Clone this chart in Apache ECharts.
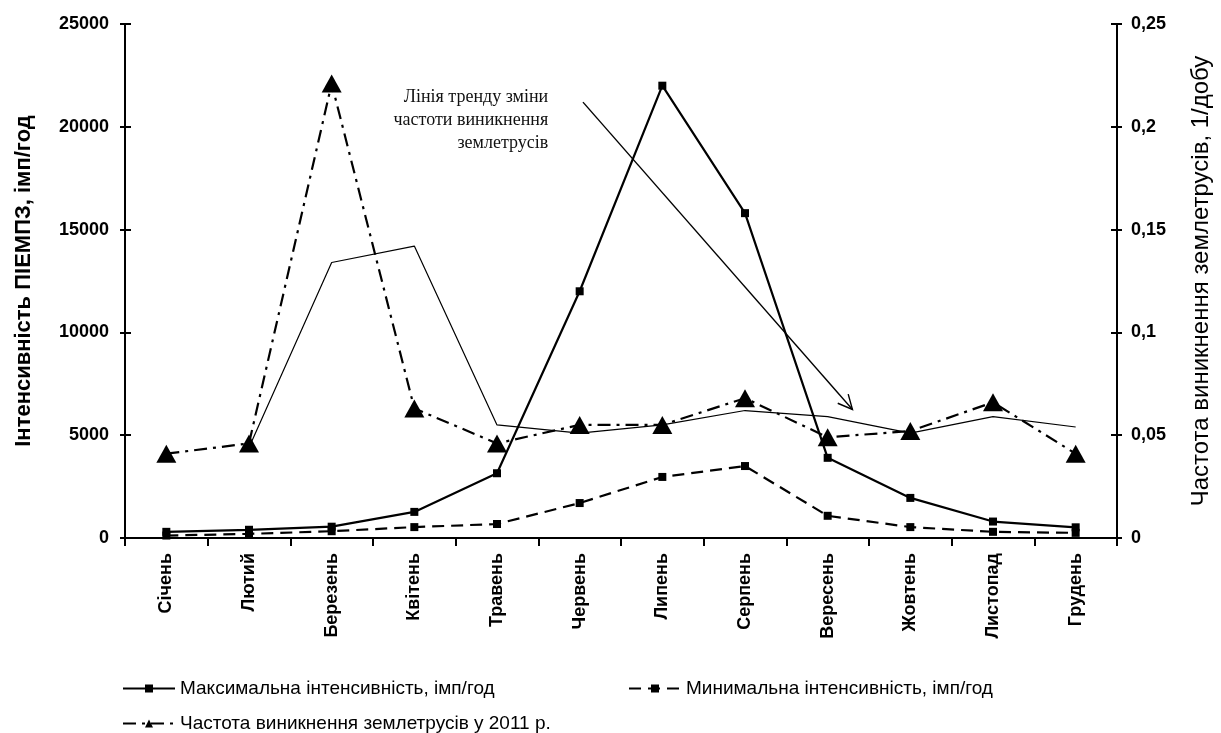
<!DOCTYPE html>
<html><head><meta charset="utf-8">
<script src="https://cdn.jsdelivr.net/npm/echarts@6/dist/echarts.min.js"></script>
<style>html,body{margin:0;padding:0;background:#fff}#c{width:1221px;height:733px}</style>
</head><body><div id="c"></div>
<script>
const months = ['Січень','Лютий','Березень','Квітень','Травень','Червень','Липень','Серпень','Вересень','Жовтень','Листопад','Грудень'];
const maxIntensity = [300, 400, 550, 1270, 3150, 12000, 22000, 15800, 3900, 1950, 800, 520];
const minIntensity = [120, 200, 330, 530, 680, 1700, 2970, 3500, 1080, 530, 300, 250];
const quakeFreq = [0.041, 0.046, 0.221, 0.063, 0.046, 0.055, 0.055, 0.068, 0.049, 0.052, 0.066, 0.041];
const trendAvg = [null, 0.044, 0.134, 0.142, 0.055, 0.051, 0.055, 0.062, 0.059, 0.051, 0.059, 0.054];
const leftTicks = {min: 0, max: 25000, interval: 5000};
const rightTicks = {min: 0, max: 0.25, interval: 0.05};
const seriesNames = ['Максимальна інтенсивність, імп/год', 'Минимальна інтенсивність, імп/год', 'Частота виникнення землетрусів у 2011 р.'];
const leftTitle = 'Інтенсивність ПІЕМПЗ, імп/год';
const rightTitle = 'Частота виникнення землетрусів, 1/добу';
const trendText = ['Лінія тренду зміни', 'частоти виникнення', 'землетрусів'];
// annotation anchors in data units: [category position, left-axis value]
const arrowFrom = [5.04, 21200];
const arrowTo = [8.3, 6250];
const textAnchor = [4.62, 22000];

const SANS = 'Liberation Sans, Arial, sans-serif';
const NARROW = 'Liberation Sans Narrow, Arial Narrow, Liberation Sans, sans-serif';
const axisLineStyle = {color: '#000', width: 2};
const tickLabel = {color: '#000', fontFamily: SANS, fontWeight: 'bold', fontSize: 18};

const chart = echarts.init(document.getElementById('c'), null, {renderer: 'canvas'});
const legendBase = {orient: 'horizontal', itemWidth: 52, itemHeight: 10, itemGap: 10,
  textStyle: {color: '#000', fontFamily: NARROW, fontSize: 19}, selectedMode: false};

chart.setOption({
  animation: false,
  backgroundColor: '#fff',
  grid: {left: 125, right: 104, top: 24, bottom: 195, containLabel: false},
  legend: [
    Object.assign({}, legendBase, {data: [seriesNames[0]], left: 117, top: 674}),
    Object.assign({}, legendBase, {data: [seriesNames[1]], left: 623, top: 674}),
    Object.assign({}, legendBase, {data: [seriesNames[2]], left: 117, top: 709})
  ],
  xAxis: {
    type: 'category', data: months, boundaryGap: true,
    axisLine: {lineStyle: axisLineStyle},
    axisTick: {show: true, length: 8, lineStyle: {color: '#000', width: 2}},
    axisLabel: Object.assign({rotate: 90, margin: 15, interval: 0}, tickLabel),
    splitLine: {show: false}
  },
  yAxis: [
    Object.assign({type: 'value', position: 'left', name: leftTitle, nameLocation: 'middle', nameRotate: 90, nameGap: 90,
      nameTextStyle: {color: '#000', fontFamily: SANS, fontWeight: 'bold', fontSize: 22},
      axisLine: {show: true, lineStyle: axisLineStyle},
      axisTick: {show: true, length: 5, lineStyle: {color: '#000', width: 2}},
      axisLabel: Object.assign({margin: 16, formatter: v => String(v)}, tickLabel),
      splitLine: {show: false}}, leftTicks),
    Object.assign({type: 'value', position: 'right', name: rightTitle, nameLocation: 'middle', nameRotate: 90, nameGap: 72,
      nameTextStyle: {color: '#000', fontFamily: SANS, fontSize: 24},
      axisLine: {show: true, lineStyle: axisLineStyle},
      axisTick: {show: true, length: 5, lineStyle: {color: '#000', width: 2}},
      axisLabel: Object.assign({margin: 14, formatter: v => String(+v.toFixed(2)).replace('.', ',')}, tickLabel),
      splitLine: {show: false}}, rightTicks),
    Object.assign({type: 'value', position: 'left', axisLine: {show: false},
      axisTick: {show: true, inside: true, length: 6, lineStyle: {color: '#000', width: 2}},
      axisLabel: {show: false}, splitLine: {show: false}}, leftTicks),
    Object.assign({type: 'value', position: 'right', axisLine: {show: false},
      axisTick: {show: true, inside: true, length: 6, lineStyle: {color: '#000', width: 2}},
      axisLabel: {show: false}, splitLine: {show: false}}, rightTicks)
  ],
  series: [
    {name: 'trend', type: 'line', yAxisIndex: 1, data: trendAvg, symbol: 'none',
      lineStyle: {color: '#000', width: 1.2}, z: 1, connectNulls: false},
    {name: seriesNames[0], type: 'line', yAxisIndex: 0, data: maxIntensity, symbol: 'rect', symbolSize: 8,
      lineStyle: {color: '#000', width: 2.2, type: 'solid'}, itemStyle: {color: '#000'}, z: 3},
    {name: seriesNames[1], type: 'line', yAxisIndex: 0, data: minIntensity, symbol: 'rect', symbolSize: 8,
      lineStyle: {color: '#000', width: 2.2, type: [12, 7]}, itemStyle: {color: '#000'}, z: 3},
    {name: seriesNames[2], type: 'line', yAxisIndex: 1, data: quakeFreq, symbol: 'triangle', symbolSize: [20, 18],
      lineStyle: {color: '#000', width: 2.2, type: [13, 6, 3, 6]}, itemStyle: {color: '#000'}, z: 4}
  ]
});

function toPx(pt) {
  const a = chart.convertToPixel({xAxisIndex: 0, yAxisIndex: 0}, [0, pt[1]]);
  const b = chart.convertToPixel({xAxisIndex: 0, yAxisIndex: 0}, [1, pt[1]]);
  return [a[0] + pt[0] * (b[0] - a[0]), a[1]];
}
const p0 = toPx(arrowFrom), p1 = toPx(arrowTo), tp = toPx(textAnchor);
const ang = Math.atan2(p1[1] - p0[1], p1[0] - p0[0]);
const headLen = 16, headAng = 0.45;
const h1 = [p1[0] - headLen * Math.cos(ang - headAng), p1[1] - headLen * Math.sin(ang - headAng)];
const h2 = [p1[0] - headLen * Math.cos(ang + headAng), p1[1] - headLen * Math.sin(ang + headAng)];
chart.setOption({
  graphic: [
    {type: 'line', shape: {x1: p0[0], y1: p0[1], x2: p1[0], y2: p1[1]}, style: {stroke: '#000', lineWidth: 1.4}, z: 10},
    {type: 'polyline', shape: {points: [h1, p1, h2]}, style: {stroke: '#000', lineWidth: 1.4, fill: null}, z: 10},
    {type: 'text', x: tp[0], y: tp[1], z: 10,
      style: {text: trendText.join('\n'), align: 'right', verticalAlign: 'top', fill: '#111',
        font: '18px "Liberation Serif", "Times New Roman", serif', lineHeight: 23}}
  ]
});
</script></body></html>
